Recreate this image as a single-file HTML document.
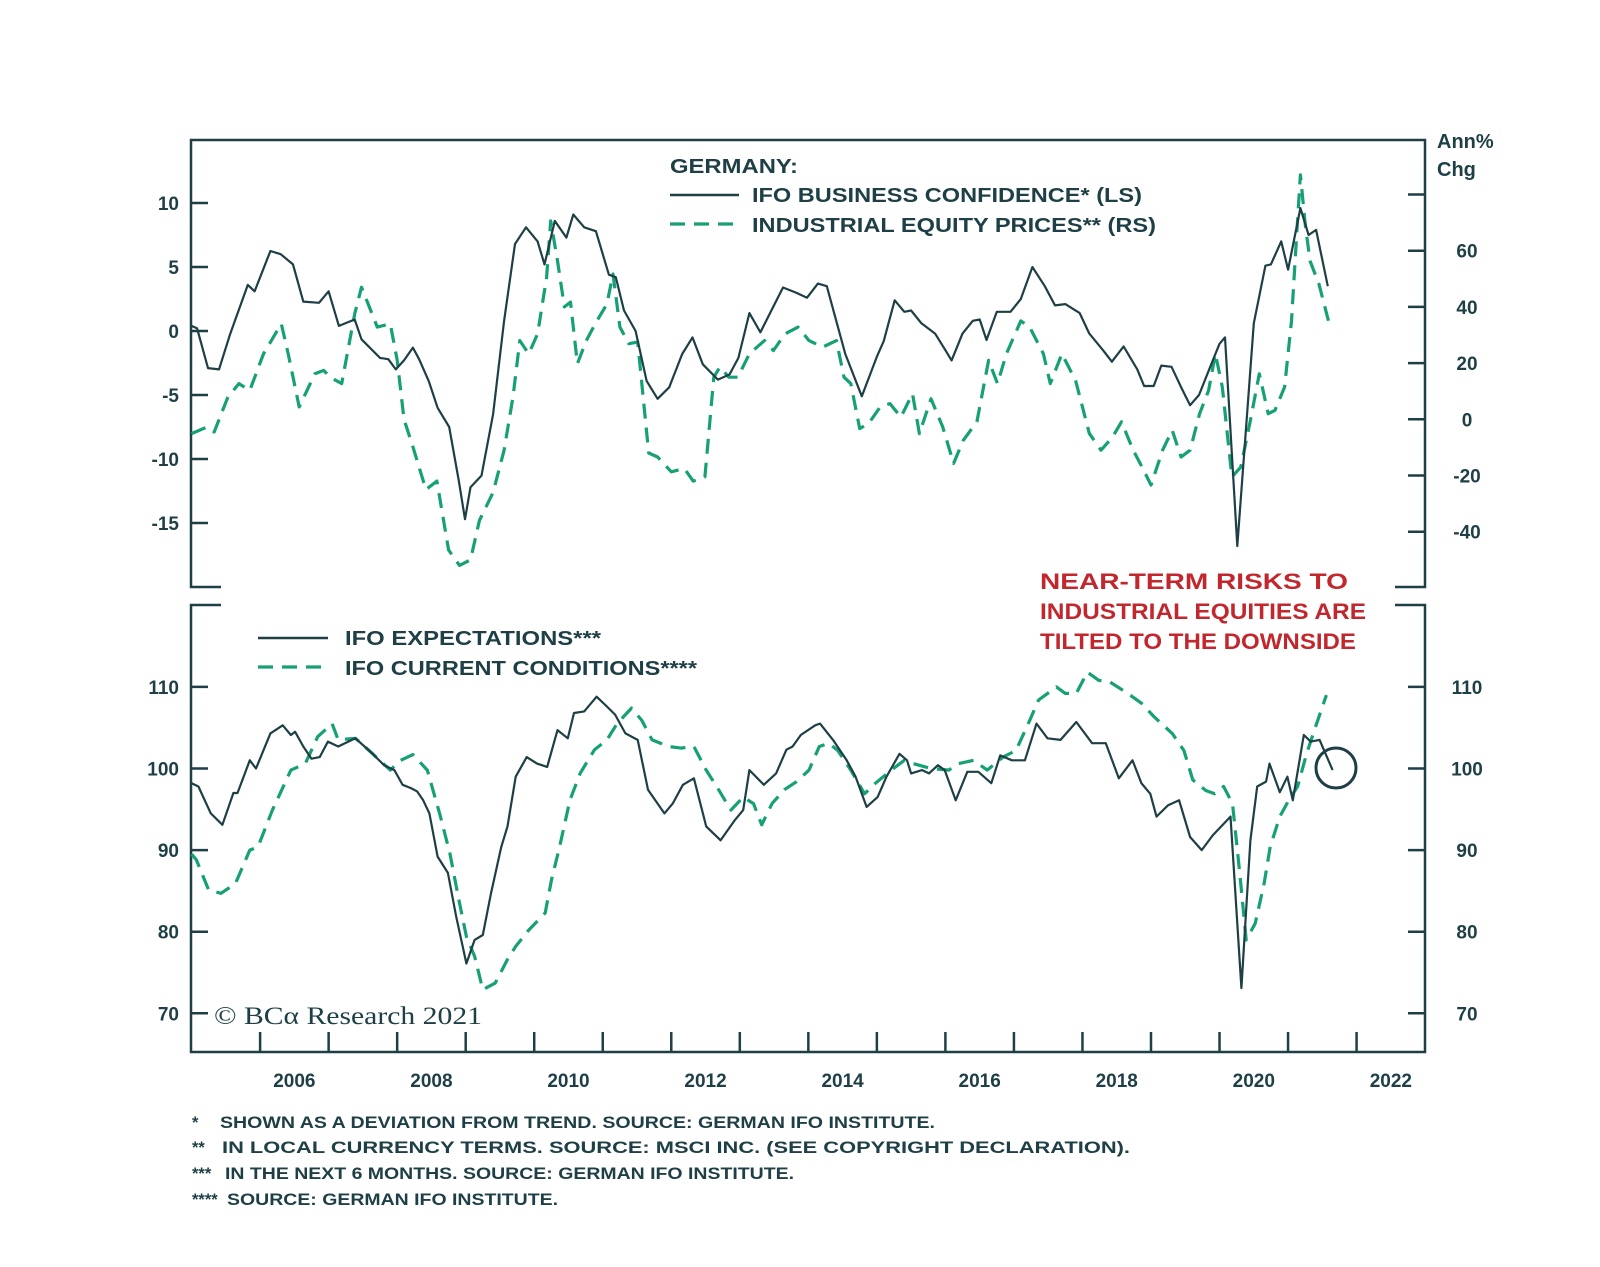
<!DOCTYPE html>
<html><head><meta charset="utf-8"><style>
html,body{margin:0;padding:0;background:#fff;}
svg{display:block;font-family:"Liberation Sans",Arial,sans-serif;}
</style></head><body>
<svg id="chart" width="1600" height="1267" viewBox="0 0 1600 1267">
<g id="frame"></g>
<g id="axes"></g>
<g id="series"></g>

<g fill="#1e3f45" font-weight="bold">
<text x="670" y="173" font-size="20" textLength="128" lengthAdjust="spacingAndGlyphs">GERMANY:</text>
<line x1="670" y1="195" x2="739" y2="195" stroke="#1e3f45" stroke-width="2.5"/>
<text x="752" y="202" font-size="20" textLength="390" lengthAdjust="spacingAndGlyphs">IFO BUSINESS CONFIDENCE* (LS)</text>
<line x1="670" y1="224" x2="739" y2="224" stroke="#16a075" stroke-width="3.2" stroke-dasharray="15 9"/>
<text x="752" y="232" font-size="20" textLength="404" lengthAdjust="spacingAndGlyphs">INDUSTRIAL EQUITY PRICES** (RS)</text>
</g>
<g fill="#1e3f45" font-weight="bold">
<line x1="258" y1="638" x2="328" y2="638" stroke="#1e3f45" stroke-width="2.5"/>
<text x="345" y="645" font-size="20" textLength="256" lengthAdjust="spacingAndGlyphs">IFO EXPECTATIONS***</text>
<line x1="258" y1="667" x2="328" y2="667" stroke="#16a075" stroke-width="3.2" stroke-dasharray="15 9"/>
<text x="345" y="675" font-size="20" textLength="352" lengthAdjust="spacingAndGlyphs">IFO CURRENT CONDITIONS****</text>
</g>
<g fill="#c1272d" font-weight="bold" font-size="22">
<text x="1040" y="589" textLength="308" lengthAdjust="spacingAndGlyphs">NEAR-TERM RISKS TO</text>
<text x="1040" y="619" textLength="326" lengthAdjust="spacingAndGlyphs">INDUSTRIAL EQUITIES ARE</text>
<text x="1040" y="649" textLength="316" lengthAdjust="spacingAndGlyphs">TILTED TO THE DOWNSIDE</text>
</g>
<circle cx="1336" cy="768" r="20" fill="none" stroke="#1e3f45" stroke-width="3"/>
<g fill="#1e3f45" font-weight="bold" font-size="20">
<text x="1437" y="148">Ann%</text>
<text x="1437" y="176">Chg</text>
</g>
<text x="214" y="1024" font-family="'Liberation Serif',serif" font-size="25" fill="#1e3f45" textLength="268" lengthAdjust="spacingAndGlyphs">© BCα Research 2021</text>
<g fill="#1e3f45" font-weight="bold" font-size="16.5">
<text x="192" y="1128">*</text>
<text x="220" y="1128" textLength="715" lengthAdjust="spacingAndGlyphs">SHOWN AS A DEVIATION FROM TREND. SOURCE: GERMAN IFO INSTITUTE.</text>
<text x="192" y="1153">**</text>
<text x="222" y="1153" textLength="908" lengthAdjust="spacingAndGlyphs">IN LOCAL CURRENCY TERMS. SOURCE: MSCI INC. (SEE COPYRIGHT DECLARATION).</text>
<text x="192" y="1179">***</text>
<text x="225" y="1179" textLength="569" lengthAdjust="spacingAndGlyphs">IN THE NEXT 6 MONTHS. SOURCE: GERMAN IFO INSTITUTE.</text>
<text x="192" y="1205">****</text>
<text x="227" y="1205" textLength="331" lengthAdjust="spacingAndGlyphs">SOURCE: GERMAN IFO INSTITUTE.</text>
</g>
</svg>
<script>
// ---- data ----
const confDates=[2005.0,2005.08,2005.24,2005.4,2005.56,2005.82,2005.92,2006.15,2006.3,2006.48,2006.63,2006.86,2007.0,2007.15,2007.38,2007.48,2007.75,2007.87,2007.98,2008.1,2008.23,2008.32,2008.46,2008.59,2008.76,2008.9,2008.99,2009.07,2009.23,2009.4,2009.56,2009.72,2009.88,2010.05,2010.15,2010.3,2010.47,2010.57,2010.73,2010.9,2011.09,2011.19,2011.31,2011.48,2011.64,2011.8,2011.97,2012.16,2012.31,2012.46,2012.68,2012.85,2012.98,2013.14,2013.3,2013.47,2013.63,2013.82,2013.98,2014.14,2014.27,2014.54,2014.78,2015.0,2015.1,2015.26,2015.4,2015.5,2015.65,2015.85,2016.0,2016.09,2016.25,2016.4,2016.5,2016.6,2016.75,2016.95,2017.1,2017.27,2017.45,2017.6,2017.75,2017.96,2018.1,2018.3,2018.43,2018.6,2018.8,2018.9,2019.04,2019.15,2019.3,2019.45,2019.57,2019.7,2019.85,2020.0,2020.08,2020.26,2020.5,2020.67,2020.75,2020.9,2021.0,2021.18,2021.3,2021.41,2021.58];
const confValues=[0.4,0.2,-2.9,-3.0,-0.3,3.6,3.1,6.25,6.0,5.2,2.3,2.2,3.1,0.4,0.9,-0.65,-2.1,-2.2,-3.0,-2.3,-1.3,-2.2,-3.9,-6.0,-7.5,-11.7,-14.7,-12.2,-11.3,-6.5,0.8,6.8,8.1,7.0,5.2,8.6,7.3,9.1,8.1,7.8,4.4,4.2,1.6,0.0,-3.9,-5.3,-4.4,-1.8,-0.5,-2.6,-3.8,-3.4,-2.1,1.4,-0.1,1.7,3.4,3.0,2.6,3.7,3.5,-1.8,-5.1,-2.0,-0.8,2.4,1.5,1.6,0.6,-0.2,-1.5,-2.3,-0.2,0.8,0.9,-0.7,1.5,1.5,2.5,5.0,3.5,2.0,2.1,1.4,-0.2,-1.5,-2.4,-1.2,-3.0,-4.3,-4.3,-2.7,-2.8,-4.5,-5.8,-5.0,-3.0,-1.0,-0.5,-16.8,0.6,5.1,5.2,7.0,4.8,9.6,7.5,7.9,3.5];
const eqDates=[2005.0,2005.23,2005.33,2005.53,2005.69,2005.85,2006.05,2006.31,2006.41,2006.57,2006.8,2006.93,2007.02,2007.19,2007.38,2007.48,2007.71,2007.9,2008.0,2008.1,2008.23,2008.42,2008.58,2008.75,2008.91,2009.07,2009.2,2009.4,2009.56,2009.69,2009.79,2009.92,2010.05,2010.18,2010.24,2010.34,2010.44,2010.53,2010.63,2010.76,2010.89,2011.06,2011.15,2011.25,2011.38,2011.51,2011.67,2011.8,2012.0,2012.19,2012.32,2012.49,2012.62,2012.71,2012.84,2012.97,2013.14,2013.36,2013.49,2013.66,2013.85,2014.01,2014.21,2014.41,2014.52,2014.62,2014.75,2014.88,2015.05,2015.19,2015.35,2015.52,2015.62,2015.79,2015.96,2016.12,2016.26,2016.46,2016.63,2016.76,2016.89,2017.1,2017.23,2017.43,2017.53,2017.7,2017.9,2018.1,2018.27,2018.44,2018.57,2018.74,2018.87,2019.0,2019.17,2019.31,2019.44,2019.57,2019.71,2019.84,2019.94,2020.04,2020.18,2020.31,2020.45,2020.58,2020.71,2020.81,2020.95,2021.05,2021.12,2021.18,2021.25,2021.32,2021.45,2021.59];
const eqValues=[-5.1,-2.7,-4.5,7.9,12.7,10.3,23.3,34,23.3,4.4,16.2,17.4,15,12.7,37.5,47,32.8,34,21,0,-9.8,-25,-22,-46.5,-52,-50,-36,-26,-11,8,28,23.3,30.4,50.5,70.6,56.4,40,41.7,19.8,28,34,41,51.7,32.8,26.9,27.5,-12,-13.4,-18.7,-17.5,-22,-20.5,15,18.6,15,15,23.3,28,24.5,30.4,32.8,28,25.7,28,15,12.7,-3.3,-1.5,4.4,5.6,0.8,9.1,-5.1,7.3,-2.7,-15.7,-7.5,-0.9,21,12.7,23.3,35,32.8,23.3,12.7,23.3,13.8,-5,-11,-6.3,-0.9,-11,-17,-23.4,-11,-3.9,-13.4,-11,2,10.3,23.3,11.5,-20.5,-17,-0.4,16.2,2,3.2,11.5,35,63.5,87,69.5,56.4,48.2,35];
const expDates=[2005.0,2005.1,2005.28,2005.45,2005.61,2005.67,2005.85,2005.94,2006.15,2006.33,2006.45,2006.51,2006.63,2006.75,2006.87,2006.99,2007.14,2007.39,2007.63,2007.81,2007.96,2008.08,2008.2,2008.29,2008.38,2008.47,2008.59,2008.74,2008.86,2009.01,2009.13,2009.25,2009.37,2009.52,2009.61,2009.73,2009.89,2010.04,2010.19,2010.34,2010.49,2010.58,2010.73,2010.91,2011.06,2011.18,2011.33,2011.51,2011.66,2011.9,2012.02,2012.17,2012.33,2012.51,2012.72,2012.93,2013.05,2013.14,2013.35,2013.53,2013.68,2013.77,2013.89,2014.1,2014.17,2014.36,2014.56,2014.69,2014.85,2015.01,2015.14,2015.33,2015.44,2015.5,2015.66,2015.76,2015.89,2015.99,2016.15,2016.32,2016.48,2016.67,2016.8,2016.97,2017.16,2017.33,2017.49,2017.68,2017.91,2018.14,2018.34,2018.53,2018.73,2018.86,2018.99,2019.08,2019.25,2019.41,2019.57,2019.74,2019.9,2020.16,2020.32,2020.45,2020.55,2020.68,2020.73,2020.88,2020.99,2021.07,2021.23,2021.33,2021.46,2021.65];
const expValues=[98.2,97.8,94.5,93.1,97,97,101,100,104.3,105.3,104.1,104.5,102.7,101.2,101.4,103.3,102.7,103.7,101.9,100.4,99.8,98,97.6,97.2,96.1,94.5,89.2,87.2,81.9,76.1,79,79.6,84.7,90.4,92.9,99,101.4,100.6,100.2,104.7,103.7,106.8,107,108.8,107.6,106.6,104.3,103.5,97.4,94.5,95.7,98,98.8,92.9,91.2,93.7,94.9,99.8,98,99.4,102.3,102.7,104.1,105.3,105.5,103.5,101,99,95.3,96.5,99,101.8,101,99.4,99.8,99.4,100.4,99.8,96.1,99.6,99.6,98.2,101.6,101,101,105.5,103.7,103.5,105.7,103.1,103.1,98.8,101,98.2,96.9,94.1,95.5,96.1,91.6,90,91.8,94.1,73.1,91.2,97.8,98.4,100.6,97.1,99,96.1,104.1,103.3,103.5,99.8];
const curDates=[2005.0,2005.07,2005.25,2005.43,2005.64,2005.85,2005.97,2006.18,2006.45,2006.66,2006.84,2007.05,2007.14,2007.39,2007.63,2007.9,2008.05,2008.23,2008.44,2008.62,2008.77,2008.89,2009.01,2009.13,2009.25,2009.43,2009.61,2009.73,2009.92,2010.16,2010.25,2010.37,2010.52,2010.67,2010.88,2011.06,2011.21,2011.42,2011.57,2011.72,2011.96,2012.14,2012.33,2012.51,2012.69,2012.87,2013.05,2013.2,2013.32,2013.47,2013.65,2013.83,2014.01,2014.16,2014.3,2014.43,2014.62,2014.82,2014.98,2015.21,2015.4,2015.53,2015.79,2016.05,2016.19,2016.41,2016.61,2016.84,2017.03,2017.23,2017.36,2017.62,2017.75,2017.91,2018.07,2018.24,2018.4,2018.66,2018.86,2019.05,2019.31,2019.48,2019.61,2019.8,2019.93,2020.06,2020.19,2020.29,2020.39,2020.52,2020.65,2020.74,2020.88,2021.01,2021.14,2021.27,2021.4,2021.56];
const curValues=[89.5,88.8,85.1,84.7,85.9,90,90.4,94.9,99.8,100.6,103.9,105.5,103.5,103.7,101.9,99.8,101,101.7,99.8,94.5,89.6,84.3,79.4,77,72.9,73.7,76.6,78.2,80.2,82.3,86.3,90.4,96.1,99.4,102.3,103.5,105.5,107.4,105.9,103.5,102.7,102.5,102.7,99.8,97.4,94.9,96.5,95.7,93.1,95.7,97.4,98.4,99.8,102.7,103.1,102.2,99.8,96.9,98.2,99.8,101,100.6,100,99.8,100.6,101,99.8,101.4,102.2,105.9,108.4,110,109.2,109.2,111.8,110.8,110.6,109.2,108,106.3,104.3,102.2,98.6,97.3,96.9,97.8,95.7,87.6,79,81,85.9,90.4,94.1,96.1,97.8,101.8,105.1,109];
const yearTicks=[2006,2007,2008,2009,2010,2011,2012,2013,2014,2015,2016,2017,2018,2019,2020,2021,2022];
const yearLabels=[2006,2008,2010,2012,2014,2016,2018,2020,2022];
const leftTopTicks=[10,5,0,-5,-10,-15];
const rightTopTicks=[80,60,40,20,0,-20,-40];
const rightTopLabels=[60,40,20,0,-20,-40];
const bottomTicks=[110,100,90,80,70];

// ---- scales ----
const NS='http://www.w3.org/2000/svg';
const L=191,R=1425,T1=140,B1=587,T2=605,B2=1052;
const xS=y=>260.1+(y-2006)*68.53;
const yL=v=>331-v*12.8;
const yR=v=>419.3-v*2.81;
const yB=v=>768.5-(v-100)*8.16;
const C='#1e3f45',G='#16a075';
function mk(tag,attrs,parent){const e=document.createElementNS(NS,tag);for(const k in attrs)e.setAttribute(k,attrs[k]);parent.appendChild(e);return e;}
const frame=document.getElementById('frame'),axes=document.getElementById('axes'),series=document.getElementById('series');

// frame
const fp=mk('path',{d:`M${L+30},${B1} H${L} V${T1} H${R} V${B1} H${R-30} M${L+30},${T2} H${L} V${B2} H${R} V${T2} H${R-30}`,fill:'none',stroke:C,'stroke-width':2.5},frame);



function tick(x1,y1,x2,y2,name){const t=mk('line',{x1,y1,x2,y2,stroke:C,'stroke-width':2.5},axes);

}
function label(x,y,txt,anchor,name){const t=mk('text',{x,y,'text-anchor':anchor,'font-size':19,'font-weight':'bold',fill:C},axes);t.textContent=txt;

}

leftTopTicks.forEach(v=>{const y=yL(v);tick(L,y,L+17,y,'left-tick');label(179,y+7,String(v),'end','left-tick-label');});
rightTopTicks.forEach(v=>{const y=yR(v);tick(R-17,y,R,y,'right-tick');});
rightTopLabels.forEach(v=>{label(1467,yR(v)+7,String(v),'middle','right-tick-label');});
bottomTicks.forEach(v=>{const y=yB(v);tick(L,y,L+17,y,'bottom-left-tick');tick(R-17,y,R,y,'bottom-right-tick');
label(179,y+7,String(v),'end','bottom-left-tick-label');label(1467,y+7,String(v),'middle','bottom-right-tick-label');});
yearTicks.forEach(yr=>{const x=xS(yr);tick(x,B2-20,x,B2,'x-tick');});
yearLabels.forEach(yr=>{label(xS(yr+0.5),1087,String(yr),'middle','x-tick-label');});

function line(dates,vals,ys,color,dash,name,w){
  const d=dates.map((t,i)=>(i?'L':'M')+xS(t).toFixed(1)+','+ys(vals[i]).toFixed(1)).join(' ');
  const p=mk('path',{d,fill:'none',stroke:color,'stroke-width':w,'stroke-linejoin':'round'},series);
  if(dash)p.setAttribute('stroke-dasharray',dash);
  
  
}
line(eqDates,eqValues,yR,G,'15 9','industrial-equity-line',3.2);
line(confDates,confValues,yL,C,null,'ifo-confidence-line',2.2);
line(curDates,curValues,yB,G,'15 9','ifo-current-line',3.2);
line(expDates,expValues,yB,C,null,'ifo-expectations-line',2.2);
</script>
</body></html>
